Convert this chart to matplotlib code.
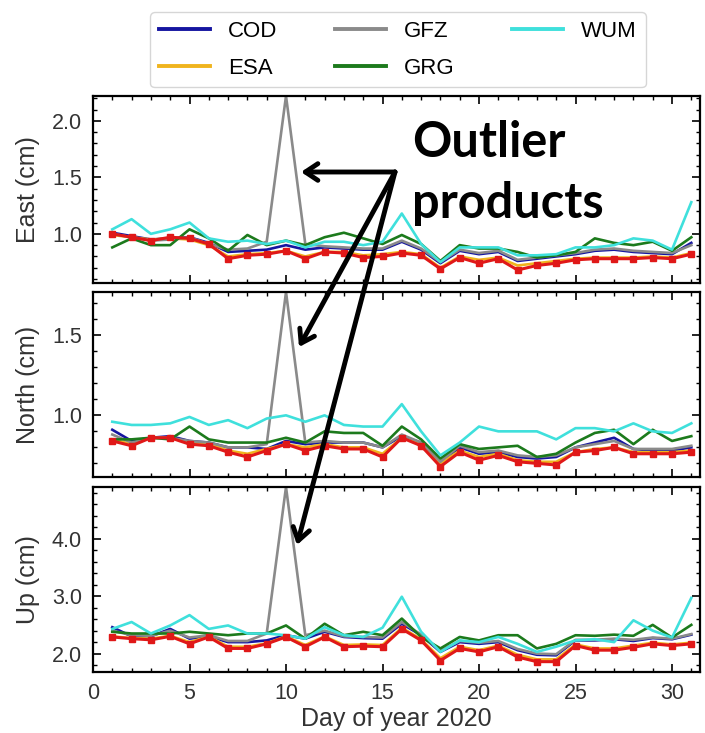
import numpy as np
import matplotlib
matplotlib.use("Agg")
import matplotlib.pyplot as plt
from matplotlib.patches import FancyArrowPatch
from matplotlib.ticker import MultipleLocator, FormatStrFormatter

plt.rcParams['font.family'] = ['Liberation Sans', 'DejaVu Sans']

days = np.arange(1, 32)

# East (cm)
east_cod = [1.01,0.98,0.95,0.96,0.97,0.92,0.84,0.85,0.86,0.90,0.86,0.88,0.87,0.86,0.86,0.93,0.86,0.74,0.85,0.82,0.84,0.76,0.78,0.80,0.82,0.85,0.86,0.84,0.83,0.82,0.92]
east_esa = [0.99,0.97,0.95,0.96,0.95,0.90,0.80,0.82,0.83,0.85,0.80,0.84,0.84,0.81,0.82,0.84,0.82,0.70,0.80,0.77,0.79,0.72,0.74,0.76,0.78,0.79,0.79,0.79,0.80,0.79,0.83]
east_gfz = [1.00,0.97,0.94,0.95,0.97,0.91,0.86,0.87,0.93,2.22,0.91,0.89,0.88,0.87,0.87,0.94,0.87,0.75,0.86,0.83,0.85,0.77,0.79,0.81,0.83,0.86,0.87,0.85,0.84,0.83,0.90]
east_grg = [0.88,0.96,0.90,0.90,1.04,0.96,0.85,0.99,0.90,0.94,0.90,0.97,1.01,0.96,0.91,0.99,0.91,0.76,0.90,0.87,0.87,0.84,0.79,0.81,0.84,0.96,0.92,0.90,0.93,0.85,0.97]
east_wum = [1.04,1.13,1.00,1.04,1.10,0.96,0.93,0.94,0.91,0.94,0.88,0.93,0.93,0.90,0.93,1.18,0.91,0.75,0.88,0.88,0.88,0.81,0.81,0.82,0.88,0.88,0.90,0.96,0.94,0.86,1.28]
east_comb = [1.00,0.97,0.94,0.97,0.96,0.91,0.78,0.81,0.82,0.85,0.78,0.84,0.83,0.79,0.80,0.83,0.81,0.69,0.79,0.74,0.78,0.68,0.72,0.74,0.77,0.78,0.78,0.78,0.79,0.78,0.82]

# North (cm)
north_cod = [0.91,0.84,0.86,0.87,0.84,0.83,0.80,0.80,0.79,0.84,0.82,0.83,0.83,0.83,0.80,0.87,0.83,0.70,0.80,0.76,0.77,0.74,0.73,0.74,0.80,0.83,0.86,0.79,0.78,0.78,0.80]
north_esa = [0.85,0.82,0.86,0.86,0.83,0.82,0.78,0.76,0.79,0.82,0.80,0.82,0.80,0.80,0.76,0.86,0.82,0.70,0.78,0.74,0.76,0.72,0.71,0.71,0.77,0.79,0.80,0.77,0.77,0.77,0.78]
north_gfz = [0.88,0.83,0.86,0.86,0.84,0.83,0.80,0.80,0.82,1.77,0.83,0.84,0.83,0.83,0.80,0.88,0.83,0.71,0.81,0.77,0.78,0.75,0.74,0.75,0.80,0.82,0.84,0.79,0.79,0.79,0.81]
north_grg = [0.85,0.85,0.86,0.85,0.93,0.85,0.83,0.83,0.83,0.86,0.83,0.90,0.89,0.89,0.81,0.93,0.85,0.73,0.82,0.79,0.80,0.81,0.74,0.76,0.83,0.89,0.91,0.82,0.91,0.84,0.87]
north_wum = [0.96,0.94,0.94,0.95,0.99,0.94,0.97,0.92,0.98,1.00,0.96,1.00,0.94,0.93,0.93,1.07,0.90,0.75,0.83,0.93,0.90,0.90,0.90,0.85,0.92,0.92,0.90,0.95,0.90,0.89,0.95]
north_comb = [0.84,0.81,0.86,0.86,0.82,0.81,0.77,0.74,0.78,0.82,0.78,0.81,0.79,0.79,0.74,0.86,0.81,0.68,0.77,0.72,0.75,0.71,0.70,0.69,0.77,0.78,0.80,0.76,0.76,0.76,0.77]

# Up (cm)
up_cod = [2.46,2.30,2.30,2.43,2.26,2.30,2.20,2.20,2.23,2.32,2.26,2.38,2.29,2.27,2.26,2.52,2.32,2.03,2.20,2.17,2.20,2.06,1.98,1.97,2.23,2.23,2.25,2.22,2.27,2.25,2.33]
up_esa = [2.30,2.27,2.26,2.31,2.20,2.30,2.12,2.12,2.18,2.30,2.15,2.30,2.15,2.16,2.15,2.45,2.25,1.92,2.12,2.06,2.14,1.98,1.90,1.90,2.16,2.09,2.09,2.14,2.19,2.16,2.19]
up_gfz = [2.40,2.32,2.31,2.40,2.28,2.32,2.22,2.22,2.35,4.90,2.32,2.40,2.30,2.29,2.28,2.55,2.33,2.05,2.22,2.19,2.22,2.08,2.00,1.99,2.24,2.24,2.26,2.24,2.28,2.26,2.34]
up_grg = [2.38,2.35,2.35,2.35,2.38,2.35,2.32,2.35,2.35,2.49,2.26,2.52,2.32,2.38,2.32,2.61,2.29,2.09,2.29,2.23,2.32,2.32,2.09,2.17,2.32,2.31,2.33,2.31,2.50,2.28,2.50]
up_wum = [2.43,2.55,2.35,2.49,2.67,2.43,2.49,2.35,2.35,2.32,2.26,2.46,2.32,2.29,2.45,2.99,2.38,2.03,2.23,2.20,2.29,2.17,2.03,2.12,2.23,2.25,2.20,2.58,2.40,2.28,2.97]
up_comb = [2.29,2.26,2.24,2.30,2.17,2.29,2.09,2.09,2.17,2.29,2.12,2.29,2.12,2.13,2.12,2.43,2.23,1.88,2.09,2.03,2.12,1.94,1.86,1.86,2.14,2.06,2.06,2.11,2.17,2.14,2.17]

names = ['COD', 'ESA', 'GFZ', 'GRG', 'WUM']
colors = ['#1515a0', '#f0b41e', '#8a8a8a', '#1c7a1c', '#3fe0dc']

panels = [
    ('East (cm)', [east_cod, east_esa, east_gfz, east_grg, east_wum], east_comb, (0.565, 2.22), 0.5, 0.1),
    ('North (cm)', [north_cod, north_esa, north_gfz, north_grg, north_wum], north_comb, (0.615, 1.77), 0.5, 0.1),
    ('Up (cm)', [up_cod, up_esa, up_gfz, up_grg, up_wum], up_comb, (1.68, 4.90), 1.0, 0.2),
]

W, H = 705, 733
fig = plt.figure(figsize=(W / 100, H / 100), dpi=100)
boxes = [(96, 283), (292, 477), (487, 672)]
left, right = 93, 700

axes = []
for (label, series, comb, ylim, maj, mnr), (top, bot) in zip(panels, boxes):
    ax = fig.add_axes([left / W, 1 - bot / H, (right - left) / W, (bot - top) / H])
    handles = []
    for name, col, vals in zip(names, colors, series):
        h, = ax.plot(days, vals, color=col, lw=1.9, label=name)
        handles.append(h)
    ax.plot(days, comb, color='#e01818', lw=2.2, marker='s', ms=5)
    ax.set_xlim(0, 31.45)
    ax.set_ylim(*ylim)
    ax.set_ylabel(label, fontsize=18)
    ax.xaxis.set_major_locator(MultipleLocator(5))
    ax.xaxis.set_minor_locator(MultipleLocator(1))
    ax.yaxis.set_major_locator(MultipleLocator(maj))
    ax.yaxis.set_minor_locator(MultipleLocator(mnr))
    ax.yaxis.set_major_formatter(FormatStrFormatter('%.1f'))
    ax.tick_params(which='both', direction='in', top=True, right=True,
                   labelsize=15.5, pad=8, labelcolor='#333333')
    ax.tick_params(which='major', length=6, width=1.2)
    ax.tick_params(which='minor', length=3, width=1.0)
    for s in ax.spines.values():
        s.set_linewidth(1.6)
    ax.yaxis.set_label_coords(-0.088, 0.5)
    if len(axes) < 2:
        ax.tick_params(labelbottom=False)
    axes.append(ax)

axes[-1].set_xlabel('Day of year 2020', fontsize=18, labelpad=2, color='#333333')
for ax in axes:
    ax.yaxis.label.set_color('#333333')

leg = fig.legend(handles, names, loc='upper center', ncol=3, fontsize=16,
                 bbox_to_anchor=(398 / W, 1 - 1 / H), handlelength=2.3,
                 columnspacing=2.6, labelspacing=0.7, frameon=True,
                 edgecolor='#cccccc')
for line in leg.get_lines():
    line.set_linewidth(2.8)

# annotation
fig.text(412 / W, 1 - 157 / H, 'Outlier', fontsize=35, fontweight='bold',
         family='Lato', va='baseline', ha='left')
fig.text(412 / W, 1 - 218 / H, 'products', fontsize=35, fontweight='bold',
         family='Lato', va='baseline', ha='left')

start = (395 / W, 1 - 172 / H)
tips = [(301, 172), (299, 347), (297, 545)]
for tx, ty in tips:
    arrow = FancyArrowPatch(start, (tx / W, 1 - ty / H), transform=fig.transFigure,
                            arrowstyle='->,head_length=9,head_width=6',
                            lw=3.5, color='black', shrinkA=0, shrinkB=0, zorder=10)
    fig.add_artist(arrow)

fig.savefig('out.png', dpi=100)
